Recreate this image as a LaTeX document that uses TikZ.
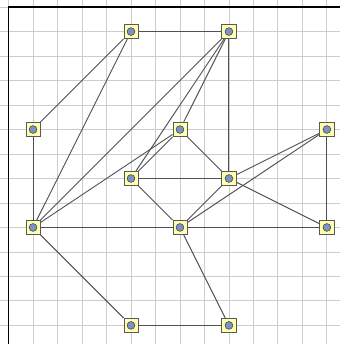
\documentclass[tikz,border=0pt]{standalone}
\usetikzlibrary{backgrounds}

\definecolor{boxfill}{RGB}{255,255,175}
\definecolor{dotfill}{RGB}{125,145,195}
\definecolor{gridgray}{RGB}{205,205,205}
\definecolor{edgegray}{RGB}{80,80,80}

\tikzset{
  vertex/.style={draw=black!65, fill=boxfill, minimum size=0.29cm, inner sep=0, line width=0.4pt,
    path picture={\filldraw[fill=dotfill, draw=black!75, line width=0.3pt]
      (path picture bounding box.center) circle (0.08cm);}},
  edge/.style={draw=edgegray, line width=0.55pt},
  gridline/.style={draw=gridgray, line width=0.5pt}
}

\begin{document}
\begin{tikzpicture}[x=0.5cm, y=-0.5cm]
        \useasboundingbox (-0.35,-0.29) rectangle (13.53,13.76);

        % nodes
        \node[vertex] (a) at (5, 1) {};
        \node[vertex] (b) at (9, 1) {};
        \node[vertex] (c) at (1, 5) {};
        \node[vertex] (d) at (7, 5) {};
        \node[vertex] (e) at (13, 5) {};
        \node[vertex] (f) at (5, 7) {};
        \node[vertex] (g) at (9, 7) {};
        \node[vertex] (h) at (1, 9) {};
        \node[vertex] (i) at (7, 9) {};
        \node[vertex] (j) at (13, 9) {};
        \node[vertex] (k) at (5, 13) {};
        \node[vertex] (l) at (9, 13) {};

        \begin{scope}[on background layer]
          % grid
          \foreach \x in {0,...,13}
            \draw[gridline] (\x, -0.29) -- (\x, 13.76);
          \foreach \y in {0,...,13}
            \draw[gridline] (-0.35, \y) -- (13.53, \y);
          \draw[black, line width=0.7pt] (0, 13.76) -- (0, 0) -- (13.53, 0);

          % edges
          \draw[edge] (a) -- (b);
          \draw[edge] (a) -- (c);
          \draw[edge] (a) -- (h);
          \draw[edge] (b) -- (g);
          \draw[edge] (b) -- (h);
          \draw[edge] (b) -- (f);
          \draw[edge] (b) -- (d);
          \draw[edge] (c) -- (h);
          \draw[edge] (d) -- (f);
          \draw[edge] (d) -- (g);
          \draw[edge] (d) -- (h);
          \draw[edge] (f) -- (g);
          \draw[edge] (f) -- (i);
          \draw[edge] (g) -- (i);
          \draw[edge] (g) -- (e);
          \draw[edge] (g) -- (j);
          \draw[edge] (i) -- (e);
          \draw[edge] (e) -- (j);
          \draw[edge] (h) -- (i);
          \draw[edge] (i) -- (j);
          \draw[edge] (h) -- (k);
          \draw[edge] (i) -- (l);
          \draw[edge] (k) -- (l);
        \end{scope}
      \end{tikzpicture}
\end{document}
